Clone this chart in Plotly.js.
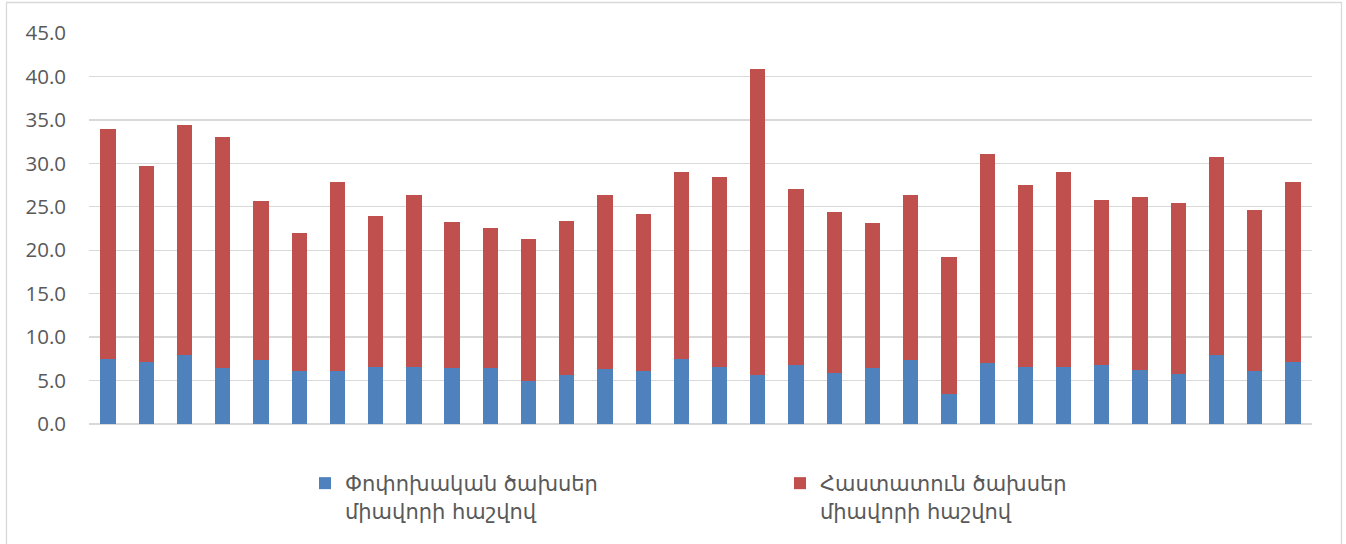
<!DOCTYPE html>
<html>
<head>
<meta charset="utf-8">
<script src="https://cdn.plot.ly/plotly-3.0.1.min.js"></script>
<style>
html,body{margin:0;padding:0;background:#fff;}
#chart{width:1346px;height:544px;}
</style>
</head>
<body>
<div id="chart"></div>
<script>
const categories = ["1","2","3","4","5","6","7","8","9","10","11","12","13","14","15","16",
                    "17","18","19","20","21","22","23","24","25","26","27","28","29","30","31","32"];
const totals = [34.0,29.7,34.4,33.0,25.7,22.0,27.8,23.9,26.3,23.2,22.6,21.3,23.4,26.4,24.2,29.0,
                28.4,40.9,27.0,24.4,23.1,26.3,19.2,31.1,27.5,29.0,25.8,26.1,25.4,30.7,24.6,27.9];
const variableCosts = [7.5,7.1,7.9,6.4,7.4,6.1,6.1,6.6,6.6,6.4,6.4,4.9,5.6,6.3,6.1,7.5,
                       6.6,5.6,6.8,5.9,6.5,7.4,3.5,7.0,6.6,6.6,6.8,6.2,5.7,7.9,6.1,7.1];
const fixedCosts = totals.map((t, i) => +(t - variableCosts[i]).toFixed(1));
const seriesNames = ["Փոփոխական ծախսեր<br>միավորի հաշվով", "Հաստատուն ծախսեր<br>միավորի հաշվով"];
const yTicks = [0,5,10,15,20,25,30,35,40,45];
const yTickLabels = yTicks.map(v => v.toFixed(1));

const traces = [
  {type:'bar', x:categories, y:variableCosts, name:seriesNames[0],
   marker:{color:'#4f81bd'}, hoverinfo:'y'},
  {type:'bar', x:categories, y:fixedCosts, name:seriesNames[1],
   marker:{color:'#c0504d'}, hoverinfo:'y'}
];

const plotW = 1312 - 89, plotH = 424 - 33;
const layout = {
  width:1346, height:544,
  margin:{l:89, r:34, t:33, b:120, pad:0},
  paper_bgcolor:'#ffffff', plot_bgcolor:'#ffffff',
  barmode:'stack', bargap:0.6,
  showlegend:true,
  xaxis:{type:'category', showticklabels:false, ticks:'', showgrid:false, zeroline:false,
         showline:false, fixedrange:true},
  yaxis:{range:[0,45], tickvals:yTicks, ticktext:yTickLabels, showgrid:true,
         gridcolor:'#d9d9d9', gridwidth:1.3, zeroline:true, zerolinecolor:'#d9d9d9', zerolinewidth:1.3,
         showline:false, ticks:'', ticklabelstandoff:22,
         tickfont:{family:'"Open Sans", sans-serif', size:20.5, color:'#595959'}, fixedrange:true},
  legend:{orientation:'h', xref:'container', yref:'container', x:305/1346, xanchor:'left',
          y:1-463/544, yanchor:'top', valign:'top', entrywidth:430, entrywidthmode:'pixels',
          traceorder:'normal',
          font:{family:'"DejaVu Sans", sans-serif', size:21, color:'#595959'},
          bgcolor:'rgba(0,0,0,0)'},
  shapes:[{type:'rect', xref:'paper', yref:'paper', layer:'above',
           x0:(6.5-89)/plotW, x1:(1341.5-89)/plotW, y0:(424-600)/plotH, y1:(424-2.5)/plotH,
           line:{color:'#d9d9d9', width:1.3}, fillcolor:'rgba(0,0,0,0)'}]
};

Plotly.newPlot('chart', traces, layout, {displayModeBar:false, staticPlot:true});
</script>
</body>
</html>
